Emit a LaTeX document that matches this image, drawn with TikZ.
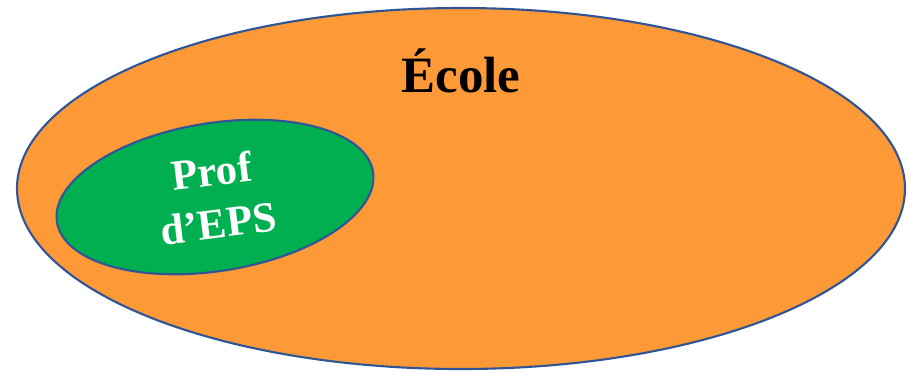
\documentclass[tikz,border=0pt]{standalone}
\usepackage{fontspec}
\setmainfont{Liberation Serif}
\usetikzlibrary{positioning,shapes.geometric}
\definecolor{ecoleorange}{RGB}{253,153,54}
\definecolor{profgreen}{RGB}{0,176,80}
\definecolor{rimblue}{RGB}{47,85,151}
\tikzstyle{set} = [draw=rimblue, line width=0.6pt, ellipse, inner sep=0pt]
\tikzstyle{label} = [font=\bfseries, align=center, inner sep=0pt]

\begin{document}
\begin{tikzpicture}
\useasboundingbox (0,0) rectangle (9.09,3.71);
\node (ecole) [set, fill=ecoleorange, minimum width=8.88cm, minimum height=3.61cm] at (4.61,1.825) {};
\node (prof) [set, fill=profgreen, minimum width=3.2cm, minimum height=1.48cm, rotate=9] at (2.15,1.74) {};
\node (ecolename) [label, font=\bfseries\fontsize{14.5}{16}\selectfont] at (4.61,3.0) {École};
\node (profname) [label, text=white, rotate=7, font=\bfseries\fontsize{12.2}{15}\selectfont] at (prof.center) {Prof\\d’EPS};
\end{tikzpicture}
\end{document}
